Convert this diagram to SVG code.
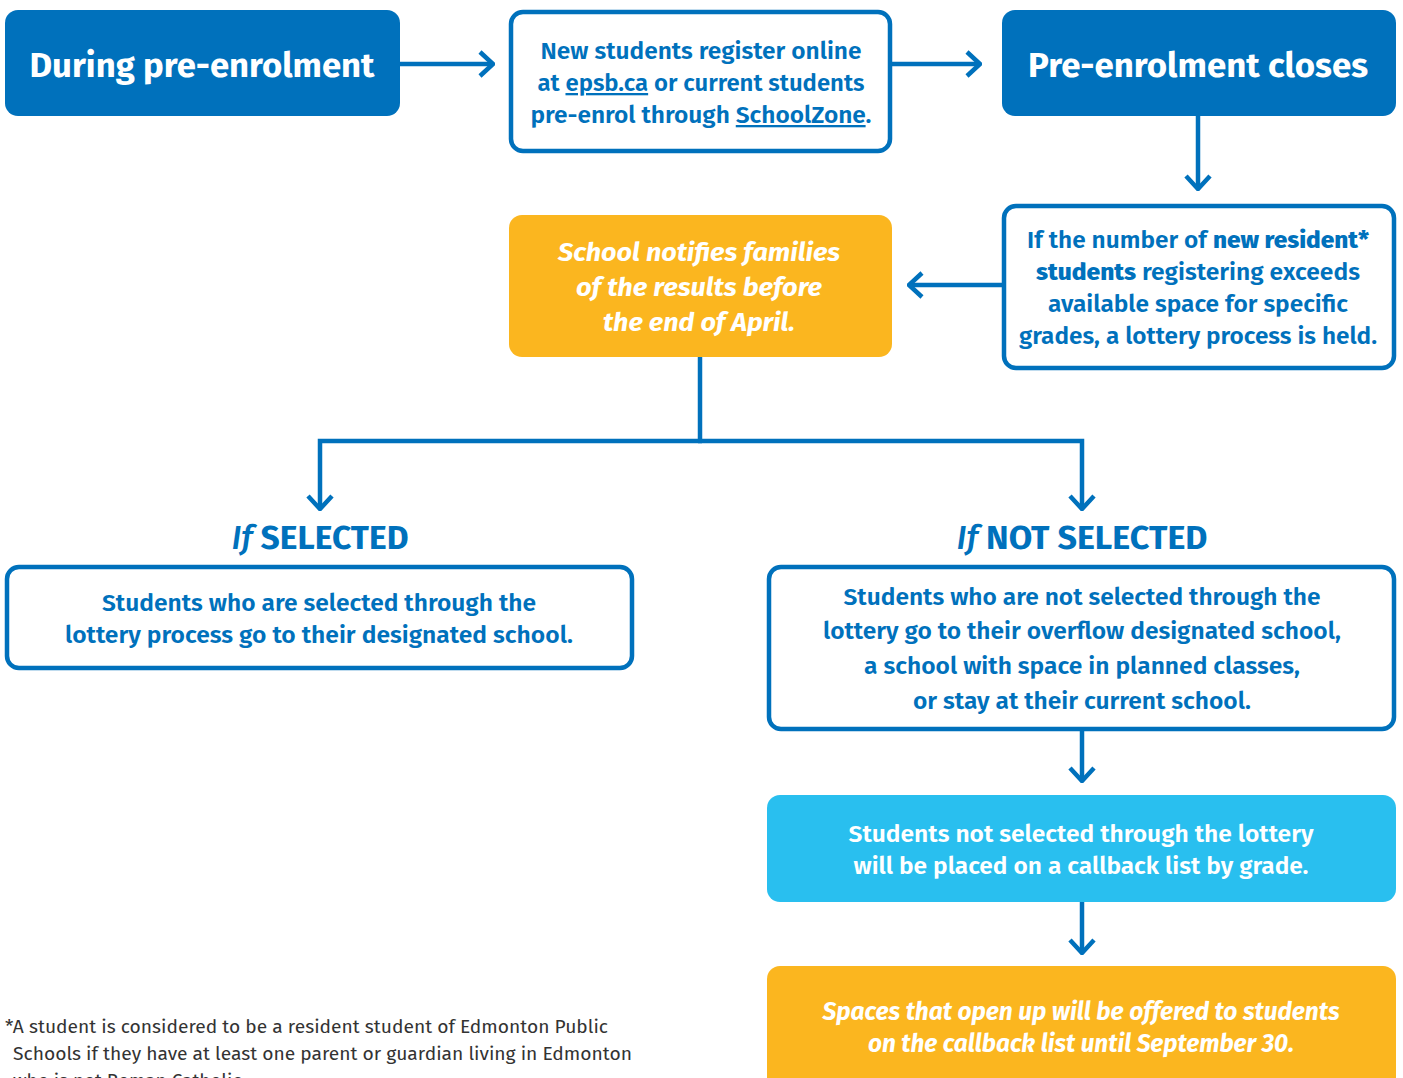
<svg xmlns="http://www.w3.org/2000/svg" width="1403" height="1078" viewBox="0 0 1403 1078">
<defs>
<style>
.solid{fill:#0071BC}
.outline{fill:#fff;stroke:#0071BC;stroke-width:4.5}
.yellow{fill:#FBB61F}
.sky{fill:#29BFEF}
.conn{fill:none;stroke:#0071BC;stroke-width:4.5}
text{font-family:"Fira Sans","Noto Sans","Open Sans","Liberation Sans",sans-serif;text-anchor:middle}
.big{font-size:34px;font-weight:700;fill:#fff}
.body{font-size:23px;font-weight:600;fill:#0071BC}
.white{font-size:23px;font-weight:600;fill:#fff}
.ital{font-size:25px;font-weight:700;font-style:italic;fill:#fff}
.head{font-size:32px;font-weight:700;fill:#0071BC}
.foot{font-size:18px;font-weight:400;fill:#333;text-anchor:start}
</style>
<marker id="arr" markerUnits="userSpaceOnUse" viewBox="-18 -16 20 32" refX="0" refY="0" markerWidth="20" markerHeight="32" orient="auto">
<path d="M-13,-12 L0,0 L-13,12" fill="none" stroke="#0071BC" stroke-width="4.5"/>
</marker>
</defs>

<g id="connectors">
<line class="conn" x1="400" y1="64" x2="493" y2="64" marker-end="url(#arr)"/>
<line class="conn" x1="890" y1="64" x2="980" y2="64" marker-end="url(#arr)"/>
<line class="conn" x1="1198" y1="116" x2="1198" y2="189" marker-end="url(#arr)"/>
<line class="conn" x1="1003" y1="285" x2="909" y2="285" marker-end="url(#arr)"/>
<line class="conn" x1="700" y1="357" x2="700" y2="441"/>
<polyline class="conn" points="702,441 320,441 320,509" marker-end="url(#arr)"/>
<polyline class="conn" points="698,441 1082,441 1082,509" marker-end="url(#arr)"/>
<line class="conn" x1="1082" y1="729" x2="1082" y2="781" marker-end="url(#arr)"/>
<line class="conn" x1="1082" y1="902" x2="1082" y2="953" marker-end="url(#arr)"/>
</g>

<g id="during">
<rect class="solid" x="5" y="10" width="395" height="106" rx="13"/>
<text class="big" x="202" y="77" textLength="345" lengthAdjust="spacingAndGlyphs">During pre-enrolment</text>
</g>

<g id="register">
<rect class="outline" x="511" y="12" width="379" height="139" rx="12"/>
<text class="body" x="701" y="59" textLength="321" lengthAdjust="spacingAndGlyphs">New students register online</text>
<text class="body" x="701" y="91" textLength="327" lengthAdjust="spacingAndGlyphs">at <tspan text-decoration="underline">epsb.ca</tspan> or current students</text>
<text class="body" x="701" y="123" textLength="341" lengthAdjust="spacingAndGlyphs">pre-enrol through <tspan text-decoration="underline">SchoolZone</tspan>.</text>
</g>

<g id="closes">
<rect class="solid" x="1002" y="10" width="394" height="106" rx="13"/>
<text class="big" x="1198" y="77" textLength="340" lengthAdjust="spacingAndGlyphs">Pre-enrolment closes</text>
</g>

<g id="lottery">
<rect class="outline" x="1004" y="206" width="390" height="162" rx="12"/>
<text class="body" x="1198" y="248" textLength="342" lengthAdjust="spacingAndGlyphs">If the number of <tspan font-weight="800">new resident*</tspan></text>
<text class="body" x="1198" y="280" textLength="324" lengthAdjust="spacingAndGlyphs"><tspan font-weight="800">students</tspan> registering exceeds</text>
<text class="body" x="1198" y="312" textLength="300" lengthAdjust="spacingAndGlyphs">available space for specific</text>
<text class="body" x="1198" y="344" textLength="358" lengthAdjust="spacingAndGlyphs">grades, a lottery process is held.</text>
</g>

<g id="notify">
<rect class="yellow" x="509" y="215" width="383" height="142" rx="13"/>
<text class="ital" x="699" y="261" textLength="282" lengthAdjust="spacingAndGlyphs">School notifies families</text>
<text class="ital" x="699" y="296" textLength="246" lengthAdjust="spacingAndGlyphs">of the results before</text>
<text class="ital" x="699" y="331" textLength="192" lengthAdjust="spacingAndGlyphs">the end of April.</text>
</g>

<g id="selected">
<text class="head" x="320" y="549" textLength="177" lengthAdjust="spacingAndGlyphs"><tspan font-style="italic" font-weight="500">If</tspan> SELECTED</text>
<rect class="outline" x="7" y="567" width="625" height="101" rx="12"/>
<text class="body" x="319" y="611" textLength="434" lengthAdjust="spacingAndGlyphs">Students who are selected through the</text>
<text class="body" x="319" y="643" textLength="508" lengthAdjust="spacingAndGlyphs">lottery process go to their designated school.</text>
</g>

<g id="notselected">
<text class="head" x="1082" y="549" textLength="251" lengthAdjust="spacingAndGlyphs"><tspan font-style="italic" font-weight="500">If</tspan> NOT SELECTED</text>
<rect class="outline" x="769" y="567" width="625" height="162" rx="12"/>
<text class="body" x="1082" y="605" textLength="477" lengthAdjust="spacingAndGlyphs">Students who are not selected through the</text>
<text class="body" x="1082" y="639" textLength="518" lengthAdjust="spacingAndGlyphs">lottery go to their overflow designated school,</text>
<text class="body" x="1082" y="674" textLength="436" lengthAdjust="spacingAndGlyphs">a school with space in planned classes,</text>
<text class="body" x="1082" y="709" textLength="338" lengthAdjust="spacingAndGlyphs">or stay at their current school.</text>
</g>

<g id="callback">
<rect class="sky" x="767" y="795" width="629" height="107" rx="13"/>
<text class="white" x="1081" y="842" textLength="465" lengthAdjust="spacingAndGlyphs">Students not selected through the lottery</text>
<text class="white" x="1081" y="874" textLength="455" lengthAdjust="spacingAndGlyphs">will be placed on a callback list by grade.</text>
</g>

<g id="spaces">
<rect class="yellow" x="767" y="966" width="629" height="130" rx="13"/>
<text class="ital" x="1081" y="1020" textLength="517" lengthAdjust="spacingAndGlyphs">Spaces that open up will be offered to students</text>
<text class="ital" x="1081" y="1052" textLength="426" lengthAdjust="spacingAndGlyphs">on the callback list until September 30.</text>
</g>

<g id="footnote">
<text class="foot" x="5" y="1033" textLength="603" lengthAdjust="spacingAndGlyphs">*A student is considered to be a resident student of Edmonton Public</text>
<text class="foot" x="13" y="1060" textLength="619" lengthAdjust="spacingAndGlyphs">Schools if they have at least one parent or guardian living in Edmonton</text>
<text class="foot" x="13" y="1087" textLength="233" lengthAdjust="spacingAndGlyphs">who is not Roman Catholic.</text>
</g>
</svg>
